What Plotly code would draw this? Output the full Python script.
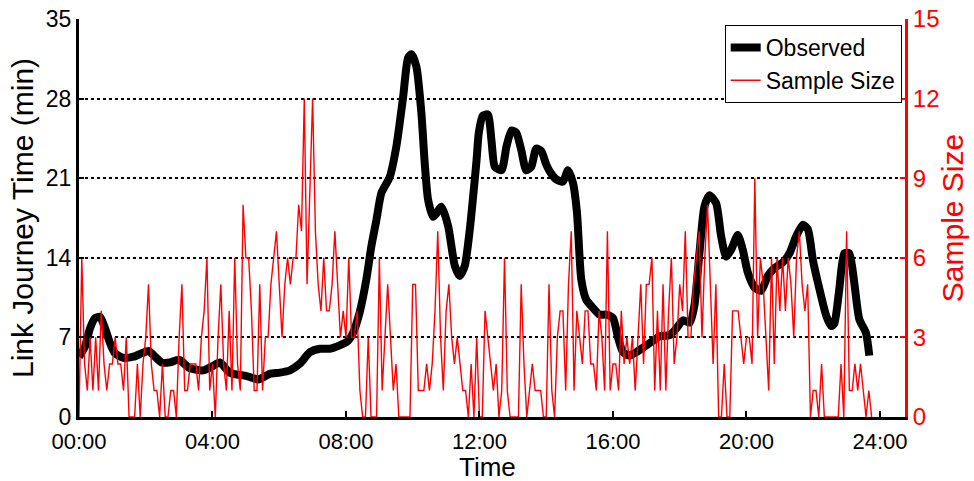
import numpy as np
import plotly.graph_objects as go

# Observed link journey time (minutes) at time of day (hours)
obs_hour = [0.00, 0.18, 0.33, 0.48, 0.63, 0.78, 0.93, 1.08, 1.33, 1.63, 1.88, 2.08, 2.28, 2.48,
            2.72, 2.92, 3.02, 3.32, 3.72, 4.02, 4.22, 4.52, 5.02, 5.37, 5.72, 6.02, 6.32, 6.62,
            6.92, 7.22, 7.51, 7.81, 8.06, 8.21, 8.41, 8.61, 8.76, 8.91, 9.06, 9.31, 9.51, 9.71,
            9.86, 9.96, 10.11, 10.26, 10.36, 10.46, 10.61, 10.71, 10.86, 11.06, 11.26, 11.41,
            11.56, 11.71, 11.81, 11.91, 11.98, 12.10, 12.25, 12.36, 12.46, 12.66, 12.81, 12.96,
            13.10, 13.25, 13.40, 13.55, 13.70, 13.85, 14.00, 14.15, 14.30, 14.50, 14.65, 14.80,
            14.92, 15.05, 15.20, 15.40, 15.60, 15.80, 16.00, 16.15, 16.30, 16.50, 16.70, 16.90,
            17.20, 17.40, 17.70, 17.90, 18.10, 18.30, 18.44, 18.59, 18.74, 18.89, 19.09, 19.24,
            19.39, 19.54, 19.74, 19.89, 20.04, 20.24, 20.44, 20.64, 20.84, 21.09, 21.29, 21.49,
            21.69, 21.84, 21.99, 22.19, 22.39, 22.54, 22.63, 22.78, 22.93, 23.08, 23.23, 23.38,
            23.58, 23.68]
obs_minutes = [5.3, 6.2, 7.8, 8.7, 8.8, 7.8, 6.5, 5.6, 5.2, 5.3, 5.6, 5.8, 5.3, 4.8,
               4.8, 5.0, 5.0, 4.3, 4.1, 4.5, 4.8, 3.9, 3.6, 3.3, 3.8, 3.9, 4.1, 4.7,
               5.7, 6.0, 6.0, 6.3, 6.7, 7.4, 9.2, 12.1, 15.0, 17.3, 19.7, 21.1, 23.8, 28.1,
               31.6, 31.9, 30.8, 26.7, 22.3, 19.1, 17.6, 17.9, 18.5, 16.8, 13.3, 12.4,
               13.3, 16.5, 19.4, 22.5, 25.0, 26.5, 26.6, 24.3, 22.0, 21.7, 23.8, 25.2,
               25.0, 23.5, 21.7, 22.0, 23.6, 23.4, 22.2, 21.4, 20.9, 20.7, 21.7, 20.6,
               18.0, 12.1, 10.3, 9.6, 9.0, 9.0, 8.7, 7.0, 5.7, 5.4, 5.7, 6.1,
               6.7, 7.1, 7.2, 7.8, 8.5, 8.3, 9.8, 14.4, 18.5, 19.5, 18.8, 15.9,
               14.1, 14.7, 16.0, 14.7, 12.7, 11.4, 11.1, 12.4, 13.1, 13.6, 14.4, 15.9,
               16.9, 16.5, 13.8, 11.2, 8.9, 8.0, 8.2, 11.2, 14.4, 14.4, 11.8, 8.6,
               7.4, 5.4]

# Number of samples in each 5-minute interval, starting at 00:00
sample_size = [0, 6, 2, 1, 3, 1, 3, 1, 4, 2, 1, 2, 2, 3, 2, 2, 1, 3, 0, 0, 0, 2, 0, 2, 3, 5, 2, 1,
               1, 0, 2, 0, 0, 1, 1, 0, 3,
               5, 1, 1, 2, 2, 2, 1, 3, 4, 6, 1, 2, 0, 3, 5, 2, 1, 4, 1, 6, 2, 1, 8, 6, 6, 4, 1, 1,
               5, 1, 3, 3, 5, 6, 7,
               5, 3, 5, 6, 5, 6, 6, 8, 7, 12, 5, 9, 12, 7, 5, 4, 6, 4, 4, 5, 7, 5, 3, 4, 3, 6, 3,
               3, 4, 1, 0, 0, 3, 0, 0, 0, 6, 1,
               3, 5, 3, 1, 2, 0, 0, 0, 0, 0, 5, 5, 1, 1, 1, 2, 1, 2, 4, 7, 3, 1, 4, 5, 3, 2, 3, 2,
               1, 1, 0, 2, 0, 3, 0,
               0, 4, 3, 2, 1, 2, 0, 1, 6, 1, 0, 0, 0, 0, 5, 2, 0, 1, 2, 1, 1, 1, 0, 0, 5, 1, 0, 3,
               4, 4, 1, 5, 7, 1, 4, 3,
               2, 4, 4, 2, 2, 1, 4, 3, 1, 7, 1, 2, 2, 1, 4, 2, 3, 2, 3, 1, 3, 5, 2, 5, 5, 6, 1, 4,
               1, 5, 1, 4, 6, 2, 3,
               5, 4, 7, 3, 3, 5, 6, 7, 3, 6, 8, 5, 2, 5, 0, 0, 2, 0, 0, 4, 4, 4, 3, 2, 3, 3, 2, 9,
               3, 6, 5, 3, 1, 6, 2,
               6, 4, 6, 4, 6, 5, 3, 6, 7, 5, 4, 5, 0, 1, 1, 0, 2, 0, 0, 0, 0, 0, 0, 2, 0, 7, 1, 1,
               2, 1, 2, 1, 0, 1, 0]
sample_hour = np.arange(len(sample_size)) * 5 / 60

x_tick_hours = [0, 4, 8, 12, 16, 20, 24]
x_tick_labels = ["00:00", "04:00", "08:00", "12:00", "16:00", "20:00", "24:00"]
y_ticks = [0, 7, 14, 21, 28, 35]
y2_ticks = [0, 3, 6, 9, 12, 15]

FONT = "Liberation Sans, Arial, sans-serif"
RED = "#ff0000"

fig = go.Figure()
fig.add_trace(go.Scatter(
    x=obs_hour, y=obs_minutes, name="Observed", mode="lines",
    line=dict(color="black", width=8, shape="spline", smoothing=0.6),
))
fig.add_trace(go.Scatter(
    x=sample_hour, y=sample_size, name="Sample Size", mode="lines",
    line=dict(color=RED, width=1.4), yaxis="y2",
))

fig.update_layout(
    width=974, height=481,
    margin=dict(l=79, r=69, t=19, b=64),
    paper_bgcolor="white", plot_bgcolor="white",
    font=dict(family=FONT, size=24, color="black"),
    showlegend=True,
    legend=dict(
        x=0.996, y=0.985, xanchor="right", yanchor="top",
        bgcolor="white", bordercolor="black", borderwidth=1,
        font=dict(size=23), tracegroupgap=0, itemwidth=30,
    ),
    xaxis=dict(
        range=[0, 24.75], tickvals=x_tick_hours, ticktext=x_tick_labels,
        showgrid=False, zeroline=False, automargin=False,
        showline=True, linecolor="black", linewidth=3,
        ticks="inside", ticklen=6, tickwidth=2, tickcolor="black",
        tickfont=dict(size=22), ticklabelstandoff=3,
    ),
    yaxis=dict(
        range=[0, 35], tickvals=y_ticks,
        showgrid=True, gridcolor="black", gridwidth=2, griddash="dot",
        zeroline=False, automargin=False,
        showline=True, linecolor="black", linewidth=3,
        ticks="inside", ticklen=5, tickwidth=2, tickcolor="black",
        tickfont=dict(size=23),
        title=dict(text="Link Journey Time (min)", font=dict(size=30), standoff=4),
    ),
    yaxis2=dict(
        range=[0, 15], tickvals=y2_ticks, overlaying="y", side="right",
        showgrid=False, zeroline=False, automargin=False,
        showline=True, linecolor=RED, linewidth=3,
        ticks="inside", ticklen=5, tickwidth=2, tickcolor=RED,
        tickfont=dict(size=24, color=RED),
        title=dict(text="Sample Size", font=dict(size=30, color=RED), standoff=4),
    ),
)

# x-axis title set below the tick labels
fig.add_annotation(
    text="Time", xref="paper", yref="paper", x=0.495, y=-0.125,
    xanchor="center", yanchor="middle", showarrow=False,
    font=dict(size=26, color="black", family=FONT),
)

fig.write_html("out.html")
